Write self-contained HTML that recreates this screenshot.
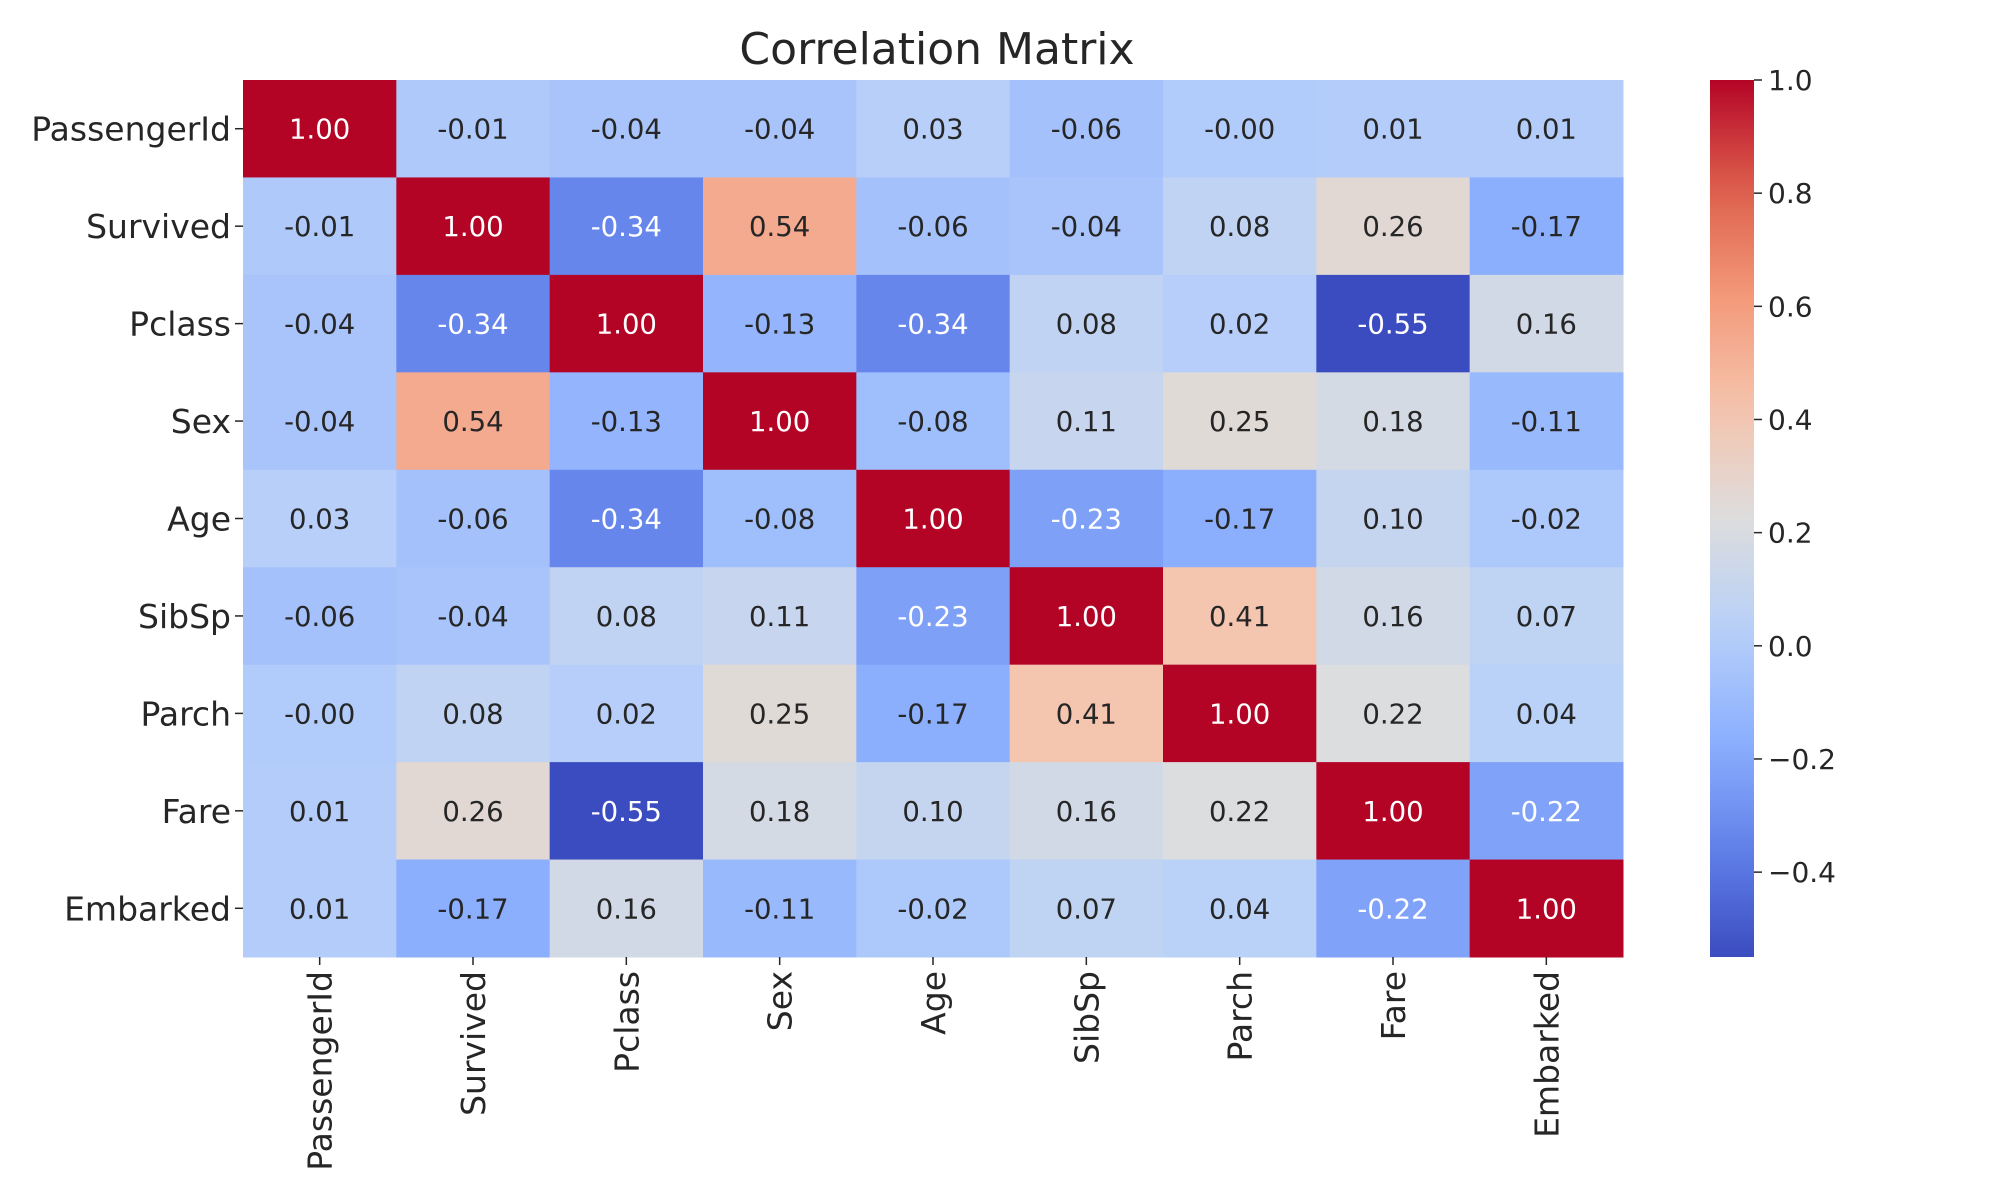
<!DOCTYPE html>
<html><head><meta charset="utf-8">
<style>
html,body{margin:0;padding:0;background:#fff;}
svg{display:block;font-family:"DejaVu Sans","Liberation Sans",sans-serif;}
</style></head>
<body>
<svg id="chart" width="2000" height="1200" viewBox="0 0 2000 1200" xmlns="http://www.w3.org/2000/svg">
<text x="937" y="64" font-size="44" text-anchor="middle" fill="#262626">Correlation Matrix</text>
<g id="cells"></g>
<g id="ylabels"></g>
<g id="xlabels"></g>
<defs><linearGradient id="cbgrad" x1="0" y1="1" x2="0" y2="0"></linearGradient></defs>
<g id="colorbar"></g>
</svg>
<script>
const labels = ["PassengerId","Survived","Pclass","Sex","Age","SibSp","Parch","Fare","Embarked"];
const row0 = [1.00,-0.01,-0.04,-0.04,0.03,-0.06,-0.00,0.01,0.01];
const row1 = [-0.01,1.00,-0.34,0.54,-0.06,-0.04,0.08,0.26,-0.17];
const row2 = [-0.04,-0.34,1.00,-0.13,-0.34,0.08,0.02,-0.55,0.16];
const row3 = [-0.04,0.54,-0.13,1.00,-0.08,0.11,0.25,0.18,-0.11];
const row4 = [0.03,-0.06,-0.34,-0.08,1.00,-0.23,-0.17,0.10,-0.02];
const row5 = [-0.06,-0.04,0.08,0.11,-0.23,1.00,0.41,0.16,0.07];
const row6 = [-0.00,0.08,0.02,0.25,-0.17,0.41,1.00,0.22,0.04];
const row7 = [0.01,0.26,-0.55,0.18,0.10,0.16,0.22,1.00,-0.22];
const row8 = [0.01,-0.17,0.16,-0.11,-0.02,0.07,0.04,-0.22,1.00];
const matrix = [row0,row1,row2,row3,row4,row5,row6,row7,row8];
const cbTicks = [-0.4,-0.2,0.0,0.2,0.4,0.6,0.8,1.0];
const vmin = -0.55, vmax = 1.0;

const NS = "http://www.w3.org/2000/svg";
const L = 243, R = 1623, T = 80, B = 957;
const cw = (R-L)/labels.length, ch = (B-T)/labels.length;
const xPos = i => L + i*cw;
const yPos = j => T + j*ch;
const stops = [[59,76,192],[98,130,234],[141,176,254],[184,208,249],[221,221,221],[245,196,173],[244,154,123],[222,96,77],[180,4,38]];
function cmap(v){
  let t = (v-vmin)/(vmax-vmin); t = Math.max(0,Math.min(1,t));
  const p = t*(stops.length-1), i = Math.min(Math.floor(p), stops.length-2), f = p-i;
  return stops[i].map((c,k)=>Math.round(c+(stops[i+1][k]-c)*f));
}
function lum(c){
  const l = c.map(x=>{x/=255;return x<=0.03928?x/12.92:Math.pow((x+0.055)/1.055,2.4);});
  return 0.2126*l[0]+0.7152*l[1]+0.0722*l[2];
}
function mk(tag, attrs, parent){
  const e = document.createElementNS(NS, tag);
  for (const k in attrs) e.setAttribute(k, attrs[k]);
  parent.appendChild(e); return e;
}
const cells = document.getElementById('cells');
matrix.forEach((row,j)=>row.forEach((v,i)=>{
  const c = cmap(v);
  const r = mk('rect',{x:xPos(i),y:yPos(j),width:cw+0.5,height:ch+0.5,fill:`rgb(${c})`},cells);
  
  
  const t = mk('text',{x:xPos(i)+cw/2,y:yPos(j)+ch/2+10,'font-size':27.5,'text-anchor':'middle',fill:lum(c)>0.408?'#262626':'#ffffff'},cells);
  t.textContent = (v===0 && Object.is(v,-0)) ? '-0.00' : v.toFixed(2);
  
  
}));
const yl = document.getElementById('ylabels'), xl = document.getElementById('xlabels');
labels.forEach((lab,j)=>{
  const cy = yPos(j)+ch/2;
  mk('line',{x1:L-8,x2:L,y1:cy,y2:cy,stroke:'#262626','stroke-width':1.5},yl);
  const t = mk('text',{x:L-12,y:cy+12,'font-size':33,'text-anchor':'end',fill:'#262626'},yl);
  t.textContent = lab;
  
  
  const cx = xPos(j)+cw/2;
  mk('line',{x1:cx,x2:cx,y1:B,y2:B+8,stroke:'#262626','stroke-width':1.5},xl);
  const u = mk('text',{x:0,y:0,'font-size':33,'text-anchor':'end',fill:'#262626',transform:`translate(${cx+12},${B+14}) rotate(-90)`},xl);
  u.textContent = lab;
  
  
});
const grad = document.getElementById('cbgrad');
for (let k=0;k<=20;k++){
  const v = vmin + (vmax-vmin)*k/20;
  mk('stop',{offset:(k/20),'stop-color':`rgb(${cmap(v)})`},grad);
}
const cb = document.getElementById('colorbar');
const cbL = 1710, cbR = 1754;
const cbY = v => B - (v-vmin)/(vmax-vmin)*(B-T);
mk('rect',{x:cbL,y:T,width:cbR-cbL,height:B-T,fill:'url(#cbgrad)'},cb);
cbTicks.forEach(v=>{
  const y = cbY(v);
  mk('line',{x1:cbR,x2:cbR+8,y1:y,y2:y,stroke:'#262626','stroke-width':1.5},cb);
  const t = mk('text',{x:cbR+14,y:y+10,'font-size':28,fill:'#262626'},cb);
  t.textContent = (v<0?'\u2212':'')+Math.abs(v).toFixed(1);
  
  
});
</script>
</body></html>
